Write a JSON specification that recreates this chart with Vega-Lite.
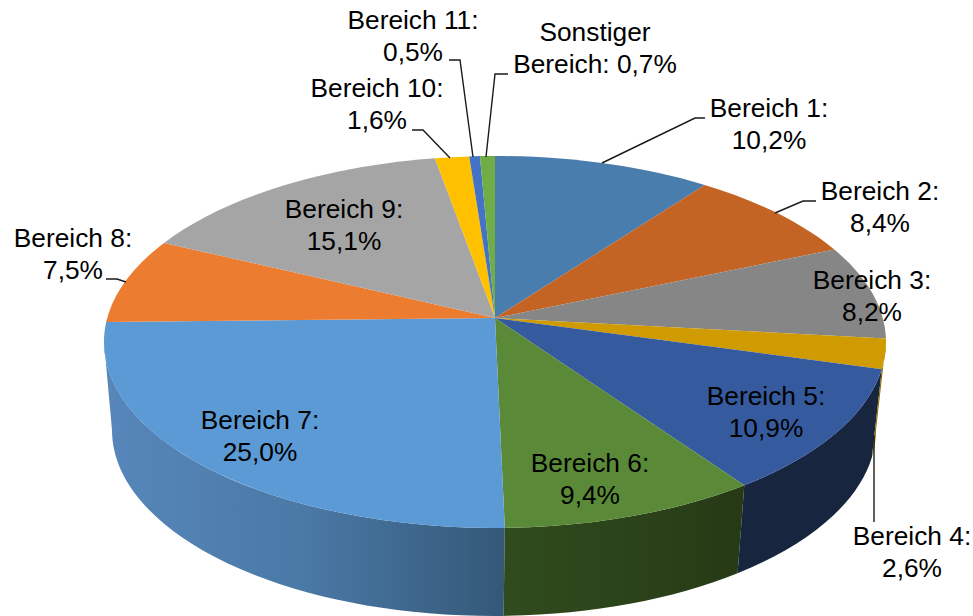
{
"$schema":"https://vega.github.io/schema/vega-lite/v6.json",
"autosize":{"type":"fit","contains":"padding"},
"width":973,"height":616,"padding":0,
"background":"white",
"view":{"stroke":null},
"config":{"text":{"font":"Liberation Sans"}},
"datasets":{
"slices":[
{"nr":1,"name":"Bereich 1","share":10.2},
{"nr":2,"name":"Bereich 2","share":8.4},
{"nr":3,"name":"Bereich 3","share":8.2},
{"nr":4,"name":"Bereich 4","share":2.6},
{"nr":5,"name":"Bereich 5","share":10.9},
{"nr":6,"name":"Bereich 6","share":9.4},
{"nr":7,"name":"Bereich 7","share":25.0},
{"nr":8,"name":"Bereich 8","share":7.5},
{"nr":9,"name":"Bereich 9","share":15.1},
{"nr":10,"name":"Bereich 10","share":1.6},
{"nr":11,"name":"Bereich 11","share":0.5},
{"nr":12,"name":"Sonstiger Bereich","share":0.7}
],
"labels":[
{"label":"Bereich 1:\n10,2%","px":769,"py":109},
{"label":"Bereich 2:\n8,4%","px":880,"py":192},
{"label":"Bereich 3:\n8,2%","px":872,"py":281},
{"label":"Bereich 4:\n2,6%","px":912,"py":537},
{"label":"Bereich 5:\n10,9%","px":766,"py":397},
{"label":"Bereich 6:\n9,4%","px":590,"py":464},
{"label":"Bereich 7:\n25,0%","px":260,"py":421},
{"label":"Bereich 8:\n7,5%","px":73,"py":239},
{"label":"Bereich 9:\n15,1%","px":344,"py":210},
{"label":"Bereich 10:\n1,6%","px":377,"py":89},
{"label":"Bereich 11:\n0,5%","px":413,"py":21},
{"label":"Sonstiger\nBereich: 0,7%","px":595,"py":33}
],
"leaders":[
{"id":"B1","o":1,"px":602,"py":163},{"id":"B1","o":2,"px":695,"py":118},{"id":"B1","o":3,"px":705,"py":118},
{"id":"B2","o":1,"px":775,"py":213},{"id":"B2","o":2,"px":803,"py":201},{"id":"B2","o":3,"px":816,"py":201},
{"id":"B4","o":1,"px":874,"py":435},{"id":"B4","o":2,"px":874,"py":522},
{"id":"B8","o":1,"px":106,"py":279},{"id":"B8","o":2,"px":117,"py":279},{"id":"B8","o":3,"px":126,"py":282},
{"id":"B10","o":1,"px":412,"py":130},{"id":"B10","o":2,"px":423,"py":130},{"id":"B10","o":3,"px":450,"py":158},
{"id":"B11","o":1,"px":449,"py":60},{"id":"B11","o":2,"px":460,"py":60},{"id":"B11","o":3,"px":473,"py":157},
{"id":"S","o":1,"px":508,"py":74},{"id":"S","o":2,"px":495,"py":74},{"id":"S","o":3,"px":486,"py":157}
]
},
"layer":[
{
"data":{"name":"slices"},
"transform":[
{"joinaggregate":[{"op":"sum","field":"share","as":"total"}]},
{"window":[{"op":"sum","field":"share","as":"cum"}],"sort":[{"field":"nr","order":"ascending"}]},
{"calculate":"2*PI*(datum.cum-datum.share)/datum.total","as":"a0"},
{"calculate":"2*PI*datum.cum/datum.total","as":"a1"},
{"calculate":"round(3877*sin(datum.a0)/(1+0.13*cos(datum.a0)))/10","as":"x0"},
{"calculate":"round(-1860*(cos(datum.a0)+0.13)/(1+0.13*cos(datum.a0)))/10","as":"y0"},
{"calculate":"round(3877*sin(datum.a1)/(1+0.13*cos(datum.a1)))/10","as":"x1"},
{"calculate":"round(-1860*(cos(datum.a1)+0.13)/(1+0.13*cos(datum.a1)))/10","as":"y1"},
{"calculate":"'M0,-24L'+datum.x0+','+datum.y0+'A391,186 0 0 1 '+datum.x1+','+datum.y1+'Z'","as":"topPath"},
{"calculate":"datum.y0<0?(datum.x0>0?391:-391):datum.x0","as":"wx0"},
{"calculate":"datum.y0<0?0:datum.y0","as":"wy0"},
{"calculate":"datum.y1<0?(datum.x1>0?391:-391):datum.x1","as":"wx1"},
{"calculate":"datum.y1<0?0:datum.y1","as":"wy1"},
{"calculate":"'M'+datum.wx0+','+datum.wy0+'A391,186 0 0 1 '+datum.wx1+','+datum.wy1+'L'+(round(10*(datum.wx1*382/391-1))/10)+','+(datum.wy1+88)+'A382,186 0 0 0 '+(round(10*(datum.wx0*382/391-1))/10)+','+(datum.wy0+88)+'Z'","as":"wallPath"}
],
"encoding":{
"x":{"datum":495,"type":"quantitative","scale":{"domain":[0,973],"nice":false,"zero":false},"axis":null},
"y":{"datum":342,"type":"quantitative","scale":{"domain":[0,616],"nice":false,"zero":false,"reverse":true},"axis":null}
},
"layer":[
{"transform":[{"filter":"datum.nr==7"}],
"mark":{"type":"point","filled":true,"opacity":1,"size":4,"strokeWidth":0,"fill":{"gradient":"linear","x1":0,"y1":0,"x2":1,"y2":0,"stops":[{"offset":0,"color":"#5787BB"},{"offset":0.5,"color":"#4A79A6"},{"offset":1,"color":"#345877"}]}},
"encoding":{"shape":{"field":"wallPath","type":"nominal","scale":null,"legend":null}}},
{"transform":[{"filter":"datum.nr==6"}],
"mark":{"type":"point","filled":true,"opacity":1,"size":4,"strokeWidth":0,"fill":{"gradient":"linear","x1":0,"y1":0,"x2":1,"y2":0,"stops":[{"offset":0,"color":"#304C1E"},{"offset":1,"color":"#263A15"}]}},
"encoding":{"shape":{"field":"wallPath","type":"nominal","scale":null,"legend":null}}},
{"transform":[{"filter":"datum.nr==5"}],
"mark":{"type":"point","filled":true,"opacity":1,"size":4,"strokeWidth":0,"fill":"#17253F"},
"encoding":{"shape":{"field":"wallPath","type":"nominal","scale":null,"legend":null}}},
{"transform":[{"filter":"datum.nr==4"}],
"mark":{"type":"point","filled":true,"opacity":1,"size":4,"strokeWidth":0,"fill":"#8A6A00"},
"encoding":{"shape":{"field":"wallPath","type":"nominal","scale":null,"legend":null}}},
{
"mark":{"type":"point","filled":true,"opacity":1,"size":4,"strokeWidth":0},
"encoding":{
"shape":{"field":"topPath","type":"nominal","scale":null,"legend":null},
"color":{"field":"name","type":"nominal","legend":null,"scale":{
"domain":["Bereich 1","Bereich 2","Bereich 3","Bereich 4","Bereich 5","Bereich 6","Bereich 7","Bereich 8","Bereich 9","Bereich 10","Bereich 11","Sonstiger Bereich"],
"range":["#487DAD","#C36425","#868686","#D09B00","#365A9E","#5A8A37","#5B9AD5","#EC7C30","#A5A5A5","#FFC000","#4472C4","#70AD47"]}}
}
}
]
},
{
"data":{"name":"leaders"},
"mark":{"type":"line","color":"#1a1a1a","strokeWidth":1.4},
"encoding":{
"x":{"field":"px","type":"quantitative","scale":{"domain":[0,973],"nice":false,"zero":false},"axis":null},
"y":{"field":"py","type":"quantitative","scale":{"domain":[0,616],"nice":false,"zero":false,"reverse":true},"axis":null},
"detail":{"field":"id","type":"nominal"},
"order":{"field":"o","type":"quantitative"}
}
},
{
"data":{"name":"labels"},
"mark":{"type":"text","font":"Liberation Sans","fontSize":26.3,"lineHeight":31.5,"lineBreak":"\n","color":"#000000","align":"center","baseline":"middle"},
"encoding":{
"x":{"field":"px","type":"quantitative","scale":{"domain":[0,973],"nice":false,"zero":false},"axis":null},
"y":{"field":"py","type":"quantitative","scale":{"domain":[0,616],"nice":false,"zero":false,"reverse":true},"axis":null},
"text":{"field":"label","type":"nominal"}
}
}
]
}
